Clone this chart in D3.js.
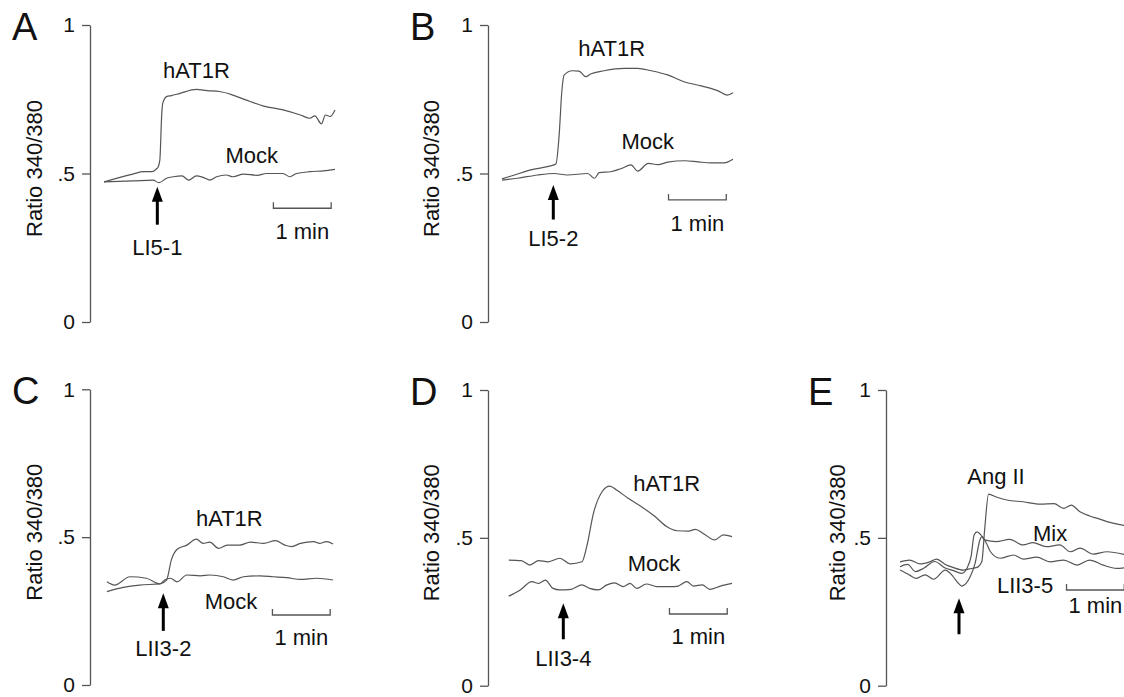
<!DOCTYPE html>
<html>
<head>
<meta charset="utf-8">
<script src="https://cdn.jsdelivr.net/npm/d3@7"></script>
<style>
  body { margin: 0; background: #fff; }
  svg { display: block; font-family: "Liberation Sans", Arial, Helvetica, sans-serif; }
</style>
</head>
<body>
<svg id="chart" width="1124" height="697"></svg>
<script>
// time in seconds, ratio 340/380

// A
const aHatT = [0,30,41,50,55,56,58,60,61,65,70,79,96,107,120,134,148,166,186,204,214,219,226,230,235,240]
const aHatV = [.472,.498,.506,.506,.517,.52,.545,.70,.736,.759,.762,.770,.783,.779,.776,.764,.747,.727,.714,.697,.686,.694,.667,.697,.692,.714]
const aMockT = [0,30,51,57,65,72,81,88,96,103,110,117,127,134,145,159,169,186,193,200,214,228,240]
const aMockV = [.472,.475,.478,.469,.484,.489,.492,.478,.492,.487,.478,.489,.495,.489,.498,.494,.5,.5,.489,.5,.506,.509,.514]

// B
const bHatT = [0,13,30,47,56,59.5,62,64.7,73,80,87,92,106,127,141,155,172,189,207,224,234,240]
const bHatV = [.482,.495,.512,.523,.532,.635,.77,.832,.846,.845,.826,.835,.846,.854,.854,.846,.832,.809,.795,.779,.764,.772]
const bMockT = [0,16,37,54,68,89,96,101,113,124,134,141,152,162,172,190,204,217,231,240]
const bMockV = [.478,.484,.495,.5,.495,.5,.484,.503,.506,.517,.529,.508,.534,.530,.538,.543,.539,.536,.536,.548]

// C
const cHatT = [3,20,37,58,65,70,76,86,96,103,110,119,128,141,152,166,178,188,195,204,218,224,231,238]
const cHatV = [.316,.330,.338,.342,.355,.423,.459,.473,.493,.479,.483,.462,.473,.473,.483,.479,.488,.473,.468,.479,.485,.479,.485,.477]
const cMockT = [3,11,27,44,58,63,69,76,86,100,110,124,134,145,162,176,190,204,221,238]
const cMockV = [.349,.338,.366,.361,.342,.355,.361,.349,.372,.369,.372,.366,.355,.366,.369,.366,.363,.357,.361,.355]

// D
const dHatT = [7,20,29,38,48,60,71,83,88,95,104,112,119,131,145,159,171,182,194,201,209,221,230,239]
const dHatV = [.425,.423,.408,.423,.419,.431,.412,.419,.470,.583,.656,.675,.662,.634,.605,.572,.538,.524,.523,.529,.515,.493,.51,.504]
const dMockT = [7,19,31,38,45,53,60,72,83,91,100,109,117,126,133,140,150,161,175,183,192,199,208,216,227,239]
const dMockV = [.303,.324,.352,.346,.357,.329,.324,.326,.341,.329,.324,.341,.348,.335,.346,.329,.344,.335,.335,.337,.352,.337,.341,.326,.337,.346]

// E
const eAngT = [0,10,21,31,38,47,55,66,72,80,85,88,92,100,111,128,146,160,170,178,187,197,206,215,225,236]
const eAngV = [.419,.425,.412,.419,.428,.41,.40,.391,.395,.40,.42,.53,.648,.638,.628,.622,.614,.616,.600,.611,.588,.574,.565,.555,.547,.540]
const eMixT = [0,8,16,25,36,47,55,64,70,74,77,80,84,88,100,114,128,138,152,166,177,187,201,215,236]
const eMixV = [.402,.41,.386,.398,.42,.398,.39,.38,.40,.44,.51,.52,.51,.493,.487,.495,.476,.484,.47,.476,.453,.465,.445,.453,.442]
const eLiiT = [0,10,17,26,35,47,55,61,64,73,78,83,85,90,94,104,118,128,142,156,170,184,197,211,225,236]
const eLiiV = [.391,.374,.363,.375,.36,.391,.37,.345,.337,.369,.414,.493,.504,.48,.453,.431,.442,.428,.435,.419,.425,.408,.425,.408,.397,.40]

const yTicks = [0, .5, 1]
const yTickLabels = ["0", ".5", "1"]

const panels = [
  {letter: "A", ax: 90, top: 25, bot: 322, titleOff: 56,
   series: [[aHatT, aHatV], [aMockT, aMockV]],
   labels: [["hAT1R", 96, .848], ["Mock", 153.5, .562]],
   arrow: {t: 55.4, tip: .4556, tail: .3276, text: "LI5-1", tv: .2525},
   bar: {t: 176, v: .383, tv: .306}},
  {letter: "B", ax: 488, top: 25, bot: 322, titleOff: 57,
   series: [[bHatT, bHatV], [bMockT, bMockV]],
   labels: [["hAT1R", 114, .9215], ["Mock", 151.5, .607]],
   arrow: {t: 53.3, tip: .4613, tail: .345, text: "LI5-2", tv: .283},
   bar: {t: 173, v: .411, tv: .334}},
  {letter: "C", ax: 90, top: 389.3, bot: 685, titleOff: 56,
   series: [[cHatT, cHatV], [cMockT, cMockV]],
   labels: [["hAT1R", 130.2, .5637], ["Mock", 132, .2817]],
   arrow: {t: 61.6, tip: .310, tail: .183, text: "LII3-2", tv: .124},
   bar: {t: 175, v: .2367, tv: .163}},
  {letter: "D", ax: 488, top: 390, bot: 685.7, titleOff: 57,
   series: [[dHatT, dHatV], [dMockT, dMockV]],
   labels: [["hAT1R", 171.1, .6845], ["Mock", 157.9, .414]],
   arrow: {t: 63.7, tip: .2787, tail: .157, text: "LII3-4", tv: .0927},
   bar: {t: 174, v: .2425, tv: .1657}},
  {letter: "E", ax: 886, top: 390, bot: 685.7, titleOff: 49,
   series: [[eAngT, eAngV], [eMixT, eMixV], [eLiiT, eLiiV]],
   labels: [["Ang II", 99.7, .7068], ["Mix", 155.9, .5154], ["LII3-5", 129.9, .3405]],
   arrow: {t: 61.3, tip: .2956, tail: .174, text: "", tv: 0},
   bar: {t: 173, v: .3236, tv: .273}}
]

const svg = d3.select("#chart")

function drawPanel(p) {
  const g = svg.append("g")

  const x = d3.scaleLinear().domain([0, 240]).range([p.ax + 14, p.ax + 245])
  const y = d3.scaleLinear().domain([0, 1]).range([p.bot, p.top])

  // y axis
  const axis = d3.axisLeft(y)
                 .tickValues(yTicks)
                 .tickFormat((d, i) => yTickLabels[i])
                 .tickSize(8)
                 .tickSizeOuter(0)
                 .tickPadding(7)
  const ag = g.append("g")
              .attr("transform", `translate(${p.ax},0)`)
              .call(axis)
  ag.select(".domain").attr("stroke", "#555").attr("stroke-width", 1.3)
  ag.selectAll(".tick line").attr("stroke", "#555").attr("stroke-width", 1.3)
  ag.selectAll(".tick text")
    .attr("fill", "#111")
    .style("font-size", "21px")
    .style("font-family", "Liberation Sans, Arial, sans-serif")

  // axis title
  const cy = (p.top + p.bot) / 2 - 5
  g.append("text")
   .attr("transform", `translate(${p.ax - p.titleOff},${cy}) rotate(-90)`)
   .attr("text-anchor", "middle")
   .attr("dy", "0.35em")
   .style("font-size", "22px")
   .attr("fill", "#111")
   .text("Ratio 340/380")

  // panel letter
  g.append("text")
   .attr("x", p.ax - 78)
   .attr("y", p.top + 14.5)
   .style("font-size", "38px")
   .attr("fill", "#111")
   .text(p.letter)

  // traces
  const line = d3.line()
                 .x(d => x(d[0]))
                 .y(d => y(d[1]))
                 .curve(d3.curveMonotoneX)
  p.series.forEach(s => {
    const pts = s[0].map((t, i) => [t, s[1][i]])
    g.append("path")
     .datum(pts)
     .attr("d", line)
     .attr("fill", "none")
     .attr("stroke", "#555")
     .attr("stroke-width", 1.2)
  })

  // trace labels
  p.labels.forEach(l => {
    g.append("text")
     .attr("x", x(l[1]))
     .attr("y", y(l[2]))
     .attr("text-anchor", "middle")
     .attr("dy", "0.35em")
     .style("font-size", "22px")
     .attr("fill", "#111")
     .text(l[0])
  })

  // arrow
  const axx = x(p.arrow.t)
  const tipY = y(p.arrow.tip)
  g.append("line")
   .attr("x1", axx).attr("x2", axx)
   .attr("y1", tipY + 12).attr("y2", y(p.arrow.tail))
   .attr("stroke", "#000")
   .attr("stroke-width", 3)
  g.append("path")
   .attr("d", `M${axx},${tipY} L${axx - 5.5},${tipY + 15} L${axx + 5.5},${tipY + 15} Z`)
   .attr("fill", "#000")
  if (p.arrow.text) {
    g.append("text")
     .attr("x", axx)
     .attr("y", y(p.arrow.tv))
     .attr("text-anchor", "middle")
     .attr("dy", "0.35em")
     .style("font-size", "22px")
     .attr("fill", "#111")
     .text(p.arrow.text)
  }

  // 1 min scale bar
  const bx0 = x(p.bar.t), bx1 = x(p.bar.t + 60), by = y(p.bar.v)
  g.append("path")
   .attr("d", `M${bx0},${by - 6} V${by} H${bx1} V${by - 6}`)
   .attr("fill", "none")
   .attr("stroke", "#555")
   .attr("stroke-width", 1.3)
  g.append("text")
   .attr("x", x(p.bar.t + 30))
   .attr("y", y(p.bar.tv))
   .attr("text-anchor", "middle")
   .attr("dy", "0.35em")
   .style("font-size", "22px")
   .attr("fill", "#111")
   .text("1 min")
}

panels.forEach(drawPanel)
</script>
</body>
</html>
